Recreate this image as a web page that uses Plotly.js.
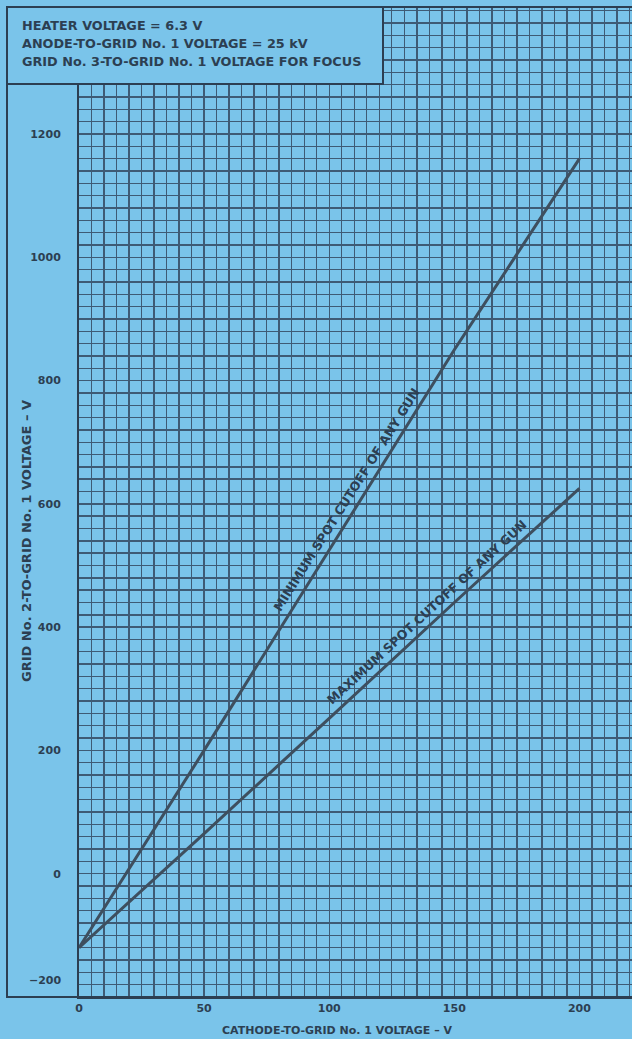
<!DOCTYPE html>
<html>
<head>
<meta charset="utf-8">
<script src="https://cdn.plot.ly/plotly-3.0.1.min.js"></script>
<style>
html,body{margin:0;padding:0;background:#7ac4ea;}
#chart{width:632px;height:1039px;}
</style>
</head>
<body>
<div id="chart"></div>
<script>
// ---- data ----
const cathodeVoltage = [0, 50, 100, 150, 200];
const minCutoffG2 = [-120, 200, 525, 850, 1160];
const maxCutoffG2 = [-120, 65, 252, 440, 625];
const xTickVals = [0, 50, 100, 150, 200];
const yTickVals = [0, 200, 400, 600, 800, 1000, 1200];
const conditionLines = [
  "HEATER VOLTAGE = 6.3 V",
  "ANODE-TO-GRID No. 1 VOLTAGE = 25 kV",
  "GRID No. 3-TO-GRID No. 1 VOLTAGE FOR FOCUS"
];
const minLabel = "MINIMUM SPOT CUTOFF OF ANY GUN";
const maxLabel = "MAXIMUM SPOT CUTOFF OF ANY GUN";
const xTitle = "CATHODE-TO-GRID No. 1 VOLTAGE – V";
const yTitle = "GRID No. 2-TO-GRID No. 1 VOLTAGE – V";

// ---- layout geometry ----
const W = 632, H = 1039;
const M = {l: 79, r: 0, t: 7, b: 42};
const plotW = W - M.l - M.r, plotH = H - M.t - M.b;
const xRange = [0, 221], yRange = [-200, 1406];
const pxX = plotW / (xRange[1] - xRange[0]);
const pxY = plotH / (yRange[1] - yRange[0]);
const px = v => (v - M.l) / plotW;          // page px -> paper x
const py = v => (H - M.b - v) / plotH;      // page px -> paper y

const bg = '#7ac4ea';
const ink = '#2c3f52';
const gridCol = '#3e5b75';
const lineCol = '#3e4f5f';
const FONT = 'DejaVu Sans, Liberation Sans, Arial, sans-serif';

function interp(xs, ys, x) {
  for (let i = 0; i < xs.length - 1; i++) {
    if (x >= xs[i] && x <= xs[i + 1]) {
      const t = (x - xs[i]) / (xs[i + 1] - xs[i]);
      return ys[i] + t * (ys[i + 1] - ys[i]);
    }
  }
  return ys[ys.length - 1];
}
function lineLabel(xs, ys, xAt, text, offset) {
  const slope = (ys[ys.length - 1] - ys[0]) / (xs[xs.length - 1] - xs[0]);
  const ang = Math.atan(slope * pxY / pxX);
  return {
    x: xAt, y: interp(xs, ys, xAt), xref: 'x', yref: 'y',
    xanchor: 'center', yanchor: 'middle',
    text: text, showarrow: false, textangle: -ang * 180 / Math.PI,
    xshift: -Math.sin(ang) * offset, yshift: Math.cos(ang) * offset,
    font: {family: FONT, size: 12.5, color: ink, weight: 'bold'}
  };
}

const traces = [
  {x: cathodeVoltage, y: minCutoffG2, mode: 'lines', line: {color: lineCol, width: 3}, hoverinfo: 'skip'},
  {x: cathodeVoltage, y: maxCutoffG2, mode: 'lines', line: {color: lineCol, width: 3}, hoverinfo: 'skip'}
];

const annotations = [];
conditionLines.forEach((t, i) => {
  annotations.push({
    x: px(20), y: py(25 + i * 18), xref: 'paper', yref: 'paper',
    xanchor: 'left', yanchor: 'middle', showarrow: false, text: t,
    font: {family: FONT, size: 12.8, color: ink, weight: 'bold'}
  });
});
annotations.push({
  x: px(27), y: py(541), xref: 'paper', yref: 'paper', textangle: -90,
  xanchor: 'center', yanchor: 'middle',
  showarrow: false, text: yTitle,
  font: {family: FONT, size: 13, color: ink, weight: 'bold'}
});
annotations.push({
  x: px(337), y: py(1030), xref: 'paper', yref: 'paper',
  xanchor: 'center', yanchor: 'middle',
  showarrow: false, text: xTitle,
  font: {family: FONT, size: 11, color: ink, weight: 'bold'}
});
annotations.push({
  x: px(64), y: yRange[0], xref: 'paper', yref: 'y', xanchor: 'right', yanchor: 'middle',
  yshift: 17, showarrow: false, text: '−200',
  font: {family: FONT, size: 11, color: ink, weight: 'bold'}
});
annotations.push(lineLabel(cathodeVoltage, minCutoffG2, 111, minLabel, 12));
annotations.push(lineLabel(cathodeVoltage, maxCutoffG2, 142, maxLabel, 12));

const shapes = [
  {type: 'rect', xref: 'paper', yref: 'paper', x0: px(7), x1: px(640), y0: py(997), y1: py(7),
   line: {color: ink, width: 2}, fillcolor: 'rgba(0,0,0,0)', layer: 'above'},
  {type: 'rect', xref: 'paper', yref: 'paper', x0: px(7), x1: px(383), y0: py(84), y1: py(7),
   line: {color: ink, width: 2}, fillcolor: bg, layer: 'above'}
];

const layout = {
  width: W, height: H,
  margin: M,
  paper_bgcolor: bg, plot_bgcolor: bg,
  showlegend: false,
  font: {family: FONT, color: ink},
  xaxis: {
    range: xRange, tickvals: xTickVals, ticks: '',
    showgrid: true, gridcolor: gridCol, gridwidth: 1.4,
    minor: {dtick: 5, tick0: 0, showgrid: true, gridcolor: gridCol, gridwidth: 1.4},
    zeroline: false, showline: true, linecolor: ink, linewidth: 2,
    tickfont: {family: FONT, size: 11, color: ink, weight: 'bold'},
    ticklabelstandoff: 0
  },
  yaxis: {
    range: yRange, tickvals: yTickVals, ticks: '',
    showgrid: true, gridcolor: gridCol, gridwidth: 1.4,
    minor: {dtick: 20, tick0: 0, showgrid: true, gridcolor: gridCol, gridwidth: 1.4},
    zeroline: false, showline: true, linecolor: ink, linewidth: 2,
    tickfont: {family: FONT, size: 11, color: ink, weight: 'bold'},
    ticklabelstandoff: 14
  },
  annotations: annotations,
  shapes: shapes
};

Plotly.newPlot('chart', traces, layout, {staticPlot: true, displayModeBar: false});
</script>
</body>
</html>
